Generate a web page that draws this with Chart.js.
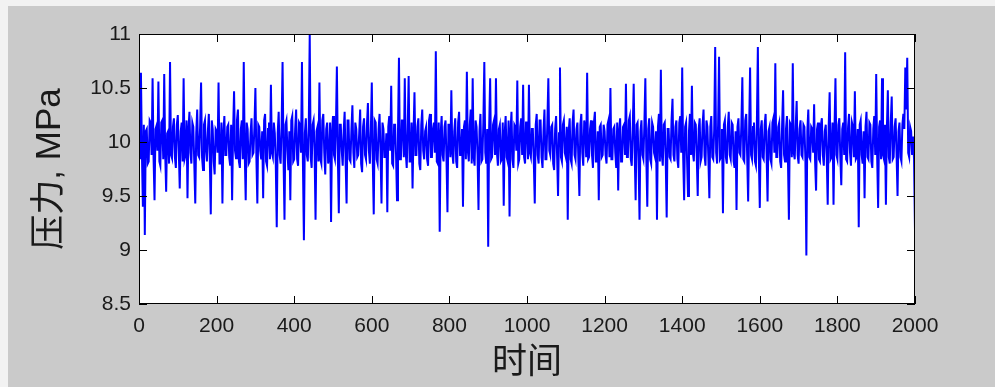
<!DOCTYPE html>
<html>
<head>
<meta charset="utf-8">
<script src="https://cdn.jsdelivr.net/npm/chart.js@4/dist/chart.umd.min.js"></script>
<style>
  html, body { margin: 0; padding: 0; background: #f2f2f2; }
  #wrap { position: absolute; left: 8px; top: 6px; width: 987px; height: 381px; background: #cacaca; }
</style>
</head>
<body>
<div id="wrap"><canvas id="chart" width="987" height="381"></canvas></div>
<script>
// sample spacing of the pressure record
const timeStep = 2.5;

// pressure, MPa, every 2.5 samples (0..2000)
const pressure = [
  // 0-97.5
  10.05,9.84,10.64,9.90,9.40,10.16,9.14,10.10,10.12,9.80,9.82,10.20,10.18,9.88,10.59,9.86,9.46,10.12,10.15,9.92,
  10.56,9.82,9.78,10.18,10.20,9.84,10.63,9.90,9.54,10.08,10.10,9.80,10.74,9.88,9.85,10.14,10.22,9.86,9.76,10.16,
  // 100-197.5
  10.25,9.92,9.57,10.10,10.18,9.82,10.59,9.84,9.88,10.20,9.48,10.12,10.28,9.90,9.80,10.18,10.14,9.80,9.43,10.08,
  10.30,9.88,9.86,10.14,10.55,9.86,9.74,10.16,10.20,9.92,9.82,10.10,10.26,9.84,9.33,10.20,10.12,9.82,9.70,10.12,
  // 200-297.5
  10.10,9.90,10.55,9.80,9.80,10.18,9.43,10.08,10.24,9.88,9.88,10.14,10.16,9.86,9.78,10.16,9.46,10.10,10.47,9.92,
  9.85,10.20,10.30,9.82,9.76,10.12,10.20,9.84,10.74,9.90,9.46,10.18,10.12,9.80,9.82,10.08,10.22,9.88,9.90,10.14,
  // 300-397.5
  10.50,9.86,9.43,10.16,10.14,9.92,9.84,10.10,9.48,10.20,10.26,9.82,9.78,10.12,10.18,9.84,10.53,9.90,9.86,10.18,
  10.08,9.80,9.21,10.08,10.28,9.88,9.80,10.14,10.74,9.86,9.28,10.16,10.20,9.92,9.74,10.10,9.46,10.20,10.24,9.82,
  // 400-497.5
  9.84,10.12,10.30,9.84,9.78,10.18,10.16,9.90,10.74,9.80,9.09,10.08,10.22,9.88,9.82,10.14,10.99,9.86,9.76,10.16,
  10.20,9.92,9.28,10.10,10.14,9.82,10.55,9.84,9.80,10.20,10.26,9.90,9.70,10.12,10.18,9.80,9.86,10.18,9.26,10.08,
  // 500-597.5
  10.24,9.88,9.84,10.14,10.70,9.86,9.34,10.16,10.16,9.92,9.78,10.10,10.28,9.82,9.43,10.20,10.20,9.84,9.82,10.12,
  10.34,9.90,9.76,10.18,10.12,9.86,9.88,10.08,10.30,9.80,9.72,10.14,10.22,9.88,9.84,10.16,10.36,9.92,9.80,10.10,
  // 600-697.5
  10.55,9.82,9.33,10.20,10.18,9.84,9.80,10.12,10.26,9.90,9.43,10.18,10.12,9.86,9.86,10.08,9.35,10.14,10.24,9.92,
  10.52,9.80,9.78,10.16,10.16,9.88,9.46,10.10,10.78,9.84,9.84,10.20,10.20,9.86,10.59,9.90,9.76,10.12,10.61,9.82,
  // 700-797.5
  9.82,10.18,9.57,10.08,10.46,9.88,9.88,10.14,10.22,9.80,9.74,10.16,10.30,9.92,9.84,10.10,10.14,9.84,9.78,10.20,
  10.26,9.86,9.86,10.12,10.18,9.90,10.84,9.82,9.80,10.18,9.17,10.08,10.24,9.88,9.82,10.14,10.20,9.84,9.35,10.16,
  // 800-897.5
  10.16,9.86,10.48,9.90,9.80,10.10,10.22,9.82,9.76,10.18,10.28,9.88,9.88,10.12,9.40,10.14,10.20,9.84,10.65,9.92,
  9.82,10.16,10.30,9.80,10.59,9.86,9.78,10.20,10.14,9.88,9.37,10.10,10.26,9.82,9.84,10.18,10.74,9.90,9.80,10.12,
  // 900-997.5
  9.03,10.14,10.59,9.84,9.86,10.16,10.20,9.88,10.59,9.90,9.78,10.12,10.16,9.82,9.84,10.18,9.41,10.08,10.24,9.86,
  9.82,10.20,9.31,10.10,10.28,9.84,9.76,10.16,10.14,9.92,10.57,9.80,9.84,10.14,10.22,9.88,10.53,9.86,9.80,10.18,
  // 1000-1097.5
  10.18,9.84,10.53,9.90,9.86,10.12,10.12,9.82,9.43,10.16,10.26,9.88,9.80,10.20,10.20,9.86,9.76,10.10,10.30,9.84,
  9.84,10.18,10.59,9.92,9.88,10.14,10.16,9.80,9.74,10.12,10.24,9.88,9.50,10.08,10.69,9.86,9.82,10.16,10.20,9.90,
  // 1100-1197.5
  9.86,10.14,9.28,10.10,10.22,9.84,9.80,10.18,10.30,9.88,9.84,10.12,10.18,9.82,9.50,10.16,10.26,9.90,9.78,10.20,
  10.14,9.86,10.64,9.84,9.86,10.12,10.20,9.88,9.76,10.18,10.28,9.82,9.82,10.10,9.46,10.14,10.16,9.86,9.88,10.16,
  // 1200-1297.5
  10.10,9.88,9.80,10.16,10.20,9.86,10.50,9.84,9.84,10.12,10.14,9.90,9.76,10.18,9.55,10.10,10.22,9.82,9.82,10.14,
  10.16,9.88,10.54,9.86,9.86,10.20,10.24,9.84,9.78,10.12,10.54,9.90,9.46,10.16,10.18,9.84,9.28,10.10,10.20,9.88,
  // 1300-1397.5
  9.84,10.16,10.59,9.86,9.40,10.12,10.22,9.84,9.80,10.18,10.14,9.90,9.86,10.10,9.28,10.14,10.26,9.82,10.67,9.88,
  9.78,10.16,10.18,9.84,9.30,10.12,10.12,9.86,9.84,10.20,10.40,9.88,9.82,10.14,10.20,9.84,9.76,10.18,10.24,9.90,
  // 1400-1497.5
  10.69,9.86,9.46,10.14,10.18,9.84,9.50,10.10,10.26,9.88,10.52,9.90,9.82,10.18,10.16,9.86,9.50,10.12,10.22,9.82,
  9.86,10.16,10.30,9.88,9.78,10.20,10.14,9.84,9.48,10.14,10.24,9.86,9.84,10.12,10.88,9.90,9.80,10.16,10.79,9.84,
  // 1500-1597.5
  9.86,10.12,9.34,10.16,10.20,9.86,9.80,10.14,10.28,9.88,9.84,10.18,10.16,9.82,9.76,10.10,9.37,10.14,10.22,9.90,
  9.88,10.16,10.60,9.84,9.82,10.20,10.26,9.86,9.45,10.12,10.69,9.88,9.84,10.14,10.18,9.82,9.78,10.18,10.88,9.86,
  // 1600-1697.5
  9.39,10.12,10.20,9.86,9.84,10.16,10.26,9.88,9.45,10.10,10.14,9.84,9.80,10.18,10.22,9.90,10.73,9.86,9.86,10.14,
  10.18,9.82,9.76,10.16,10.48,9.88,9.82,10.12,10.24,9.84,9.28,10.18,10.16,9.86,10.73,9.90,9.84,10.14,10.38,9.88,
  // 1700-1797.5
  9.80,10.12,10.20,9.88,9.86,10.16,10.14,9.84,8.95,10.10,10.30,9.86,9.84,10.14,10.12,9.90,10.35,9.82,9.55,10.12,
  10.18,9.84,9.82,10.16,10.22,9.88,9.78,10.10,10.16,9.86,9.42,10.14,10.46,9.84,9.86,10.18,9.42,10.12,10.59,9.88,
  // 1800-1897.5
  9.84,10.16,10.22,9.86,9.60,10.12,10.18,9.88,10.83,9.84,9.82,10.14,10.26,9.90,9.78,10.18,10.14,9.86,10.47,9.84,
  9.86,10.12,9.21,10.16,10.20,9.88,9.80,10.10,9.48,10.14,10.28,9.86,9.84,10.18,10.16,9.82,9.76,10.12,10.24,9.88,
  // 1900-2000
  10.63,9.86,9.39,10.14,10.20,9.84,10.59,9.88,9.84,10.16,9.42,10.12,10.48,9.86,9.80,10.18,10.42,9.84,9.86,10.14,
  10.22,9.88,9.50,10.10,10.18,9.86,9.82,10.16,10.26,10.12,10.69,10.30,10.78,9.90,9.86,10.14,10.10,9.88,10.05,9.84,
  9.18,
];

const xTicks = [0, 200, 400, 600, 800, 1000, 1200, 1400, 1600, 1800, 2000];
const yTicks = [8.5, 9, 9.5, 10, 10.5, 11];

const xTitle = "时间";
const yTitle = "压力, MPa";

const fontFamily = "'Liberation Sans', Arial, 'Noto Sans CJK SC', sans-serif";

// white plot area, black frame and MATLAB-style inward ticks on all four sides
const axesBox = {
  id: "axesBox",
  beforeDatasetsDraw(chart) {
    const { ctx, chartArea: a } = chart;
    ctx.save();
    ctx.fillStyle = "#ffffff";
    ctx.fillRect(a.left, a.top, a.right - a.left, a.bottom - a.top);
    ctx.restore();
  },
  afterDatasetsDraw(chart) {
    const { ctx, chartArea: a, scales: { x, y } } = chart;
    const len = 8;
    ctx.save();
    ctx.strokeStyle = "#000000";
    ctx.lineWidth = 1;
    ctx.beginPath();
    xTicks.forEach((v) => {
      const px = Math.round(x.getPixelForValue(v)) + 0.5;
      ctx.moveTo(px, a.bottom);
      ctx.lineTo(px, a.bottom - len);
      ctx.moveTo(px, a.top);
      ctx.lineTo(px, a.top + len);
    });
    yTicks.forEach((v) => {
      const py = Math.round(y.getPixelForValue(v)) + 0.5;
      ctx.moveTo(a.left, py);
      ctx.lineTo(a.left + len, py);
      ctx.moveTo(a.right, py);
      ctx.lineTo(a.right - len, py);
    });
    ctx.stroke();
    ctx.strokeRect(a.left + 0.5, a.top + 0.5, a.right - a.left - 1, a.bottom - a.top - 1);
    ctx.restore();
  },
};

new Chart(document.getElementById("chart"), {
  type: "line",
  data: {
    datasets: [
      {
        data: pressure.map((p, i) => ({ x: i * timeStep, y: p })),
        borderColor: "#0000ff",
        borderWidth: 2,
        pointRadius: 0,
        tension: 0,
        fill: false,
      },
    ],
  },
  options: {
    responsive: false,
    animation: false,
    events: [],
    layout: { padding: { top: 28, right: 80, left: 0, bottom: 0 } },
    plugins: { legend: { display: false }, tooltip: { enabled: false } },
    scales: {
      x: {
        type: "linear",
        min: 0,
        max: 2000,
        afterBuildTicks: (s) => { s.ticks = xTicks.map((v) => ({ value: v })); },
        afterFit: (s) => { s.height = 83; },
        grid: { display: false, drawTicks: false },
        border: { display: false },
        ticks: {
          padding: 10,
          color: "#1a1a1a",
          font: { family: fontFamily, size: 21 },
          maxRotation: 0,
          callback: (v) => String(v),
        },
        title: {
          display: true,
          text: xTitle,
          color: "#1a1a1a",
          font: { family: fontFamily, size: 35 },
          padding: { top: 0, bottom: 3 },
        },
      },
      y: {
        min: 8.5,
        max: 11,
        afterBuildTicks: (s) => { s.ticks = yTicks.map((v) => ({ value: v })); },
        afterFit: (s) => { s.width = 131; },
        grid: { display: false, drawTicks: false },
        border: { display: false },
        ticks: {
          padding: 8,
          color: "#1a1a1a",
          font: { family: fontFamily, size: 21 },
          callback: (v) => String(v),
        },
        title: {
          display: true,
          text: yTitle,
          color: "#1a1a1a",
          font: { family: fontFamily, size: 35 },
          padding: { top: 21, bottom: 0 },
        },
      },
    },
  },
  plugins: [axesBox],
});
</script>
</body>
</html>
